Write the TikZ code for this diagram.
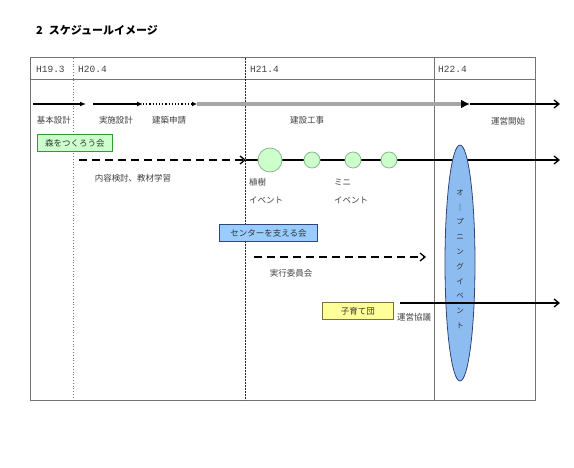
\documentclass[tikz,border=0pt]{standalone}
\usepackage{fontspec}
\newfontfamily\cjk{Noto Sans CJK JP}
\newfontfamily\hdrfont{Liberation Mono}
\usetikzlibrary{arrows.meta,shapes.geometric}
\definecolor{gfill}{HTML}{CCFFCC}
\definecolor{gline}{HTML}{339933}
\definecolor{cline}{HTML}{88BB88}
\definecolor{bfill}{HTML}{99CCFF}
\definecolor{efill}{HTML}{8DBDF0}
\definecolor{bline}{HTML}{334477}
\definecolor{yfill}{HTML}{FFFF99}
\definecolor{yline}{HTML}{777733}
\begin{document}
\begin{tikzpicture}[x=1pt,y=-1pt,
  lbl/.style={font=\cjk\fontsize{8.5}{10}\selectfont, text=black!75, inner sep=0pt},
  hdr/.style={font=\hdrfont\fontsize{9.5}{10}\selectfont, anchor=west, inner sep=0pt, text=black!75},
  frame/.style={draw=black!55, line width=1pt},
  tag/.style={draw=#1, line width=0.8pt, font=\cjk\fontsize{8.5}{10}\selectfont, text=black!80, inner sep=0pt, anchor=north west},
  evt/.style={circle, draw=cline, fill=gfill, line width=0.8pt, inner sep=0pt, minimum size=#1},
  flow/.style={line width=1.3pt, -{Straight Barb[length=5pt,width=8pt,line width=1.3pt]}},
  plan/.style={line width=1.8pt, dash pattern=on 8pt off 5pt, -{Straight Barb[length=5pt,width=8pt,line width=1.3pt]}},
  small/.style={line width=1.2pt, -{Latex[length=6pt,width=5pt]}}
]
\useasboundingbox (0,0) rectangle (574,468);

% title
\node[font=\cjk\bfseries\fontsize{11}{12}\selectfont, anchor=west, inner sep=0pt] (title) at (36,30) {2\hspace{6pt}スケジュールイメージ};

% table frame
\draw[frame] (30,58) rectangle (535,400);
\draw[frame] (30,80) -- (535,80);
\draw[draw=black!55, line width=0.8pt, dotted] (73,58) -- (73,400);
\draw[draw=black!85, line width=0.8pt, dash pattern=on 2pt off 1pt] (245,58) -- (245,400);
\draw[draw=black!55, line width=0.8pt] (434,58) -- (434,400);

% headers
\node[hdr] (h1) at (36,69) {H19.3};
\node[hdr] (h2) at (78,69) {H20.4};
\node[hdr] (h3) at (250,69) {H21.4};
\node[hdr] (h4) at (438,69) {H22.4};

% row 1
\coordinate (r1a) at (33,104);
\coordinate (r1b) at (86,104);
\coordinate (r1c) at (93,104);
\coordinate (r1d) at (143,104);
\coordinate (r1e) at (197,104);
\coordinate (r1f) at (470,104);
\coordinate (r1g) at (560,104);
\draw[small] (r1a) -- (r1b);
\draw[small] (r1c) -- (r1d);
\draw[line width=1.2pt, dotted, -{Latex[length=5pt,width=5pt]}] (r1d) -- (r1e);
\draw[line width=3.5pt, black!35, -{Latex[length=9pt,width=9pt,color=black]}] (r1e) -- (r1f);
\draw[flow] (r1f) -- (r1g);
\node[lbl] (l1) at (54,120) {基本設計};
\node[lbl] (l2) at (116,120) {実施設計};
\node[lbl] (l3) at (169,120) {建築申請};
\node[lbl] (l4) at (307,120) {建設工事};
\node[lbl] (l5) at (508,121) {運営開始};

% green box
\node[tag=gline, fill=gfill, minimum width=75pt, minimum height=17pt] (mori) at (37,134) {森をつくろう会};

% row 2
\coordinate (r2a) at (79,160);
\coordinate (r2b) at (246,160);
\coordinate (r2c) at (560,160);
\draw[plan] (r2a) -- (r2b);
\draw[flow] (r2b) -- (r2c);
\node[lbl] (l6) at (133,178) {内容検討、教材学習};

% opening event ellipse
\node[ellipse, draw=bline, fill=efill, line width=0.8pt, minimum width=30pt, minimum height=236pt] (open) at (460,263) {};
\node[font=\cjk\fontsize{7.5}{14.8}\selectfont, align=center, inner sep=0pt, text=black!80] (opentext) at (460,259) {オ\\｜\\プ\\ニ\\ン\\グ\\イ\\ベ\\ン\\ト};

% event circles
\node[evt=24pt] (e1) at (270,160) {};
\node[evt=16pt] (e2) at (312,160) {};
\node[evt=16pt] (e3) at (353,160) {};
\node[evt=16pt] (e4) at (389,160) {};
\node[lbl, anchor=west] (l7) at (249,182) {植樹};
\node[lbl, anchor=west] (l8) at (249,200) {イベント};
\node[lbl, anchor=west] (l9) at (334,182) {ミニ};
\node[lbl, anchor=west] (l10) at (334,200) {イベント};

% blue box
\node[tag=bline, fill=bfill, minimum width=98pt, minimum height=17pt] (center) at (219,224) {センターを支える会};

% row 3
\coordinate (r3a) at (254,257);
\coordinate (r3b) at (426,257);
\draw[plan] (r3a) -- (r3b);
\node[lbl] (l11) at (291,273) {実行委員会};

% yellow box
\node[tag=yline, fill=yfill, minimum width=71pt, minimum height=17pt] (kosodate) at (322,302) {子育て団};

% row 4
\coordinate (r4a) at (400,303);
\coordinate (r4b) at (560,303);
\draw[flow] (r4a) -- (r4b);
\node[lbl, anchor=west] (l12) at (397,317) {運営協議};
\end{tikzpicture}
\end{document}
